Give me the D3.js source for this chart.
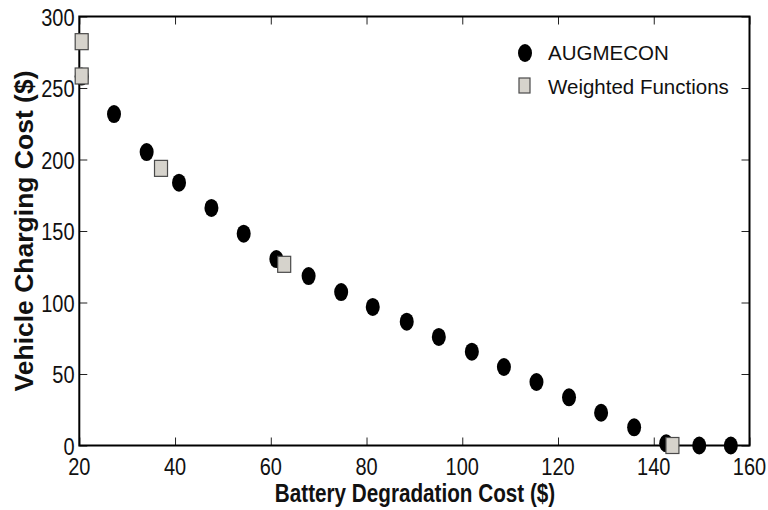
<!DOCTYPE html>
<html>
<head>
<meta charset="utf-8">
<script src="https://cdn.jsdelivr.net/npm/d3@7/dist/d3.min.js"></script>
<style>
  html, body { margin: 0; padding: 0; background: #fff; }
  svg { display: block; }
</style>
</head>
<body>
<svg id="chart" width="768" height="510"></svg>
<script>
// Pareto front: battery degradation cost vs. vehicle charging cost
const augmeconX = [20.5, 27.25, 34.07, 40.83, 47.6, 54.34, 61.16, 67.9, 74.7, 81.3, 88.4, 95.1, 102.0, 108.7, 115.5, 122.3, 129.0, 135.9, 142.6, 149.5, 156.1];
const augmeconY = [258, 231.8, 205.2, 183.8, 166.1, 148.1, 130.4, 118.5, 107.3, 96.9, 86.6, 75.9, 65.6, 54.9, 44.4, 33.7, 22.9, 12.7, 1.5, 0, 0];
const weightedX = [20.5, 20.5, 37.07, 62.8, 143.9];
const weightedY = [282.4, 258.4, 193.8, 126.7, 0];
const xTicks = [20, 40, 60, 80, 100, 120, 140, 160];
const yTicks = [0, 50, 100, 150, 200, 250, 300];
const seriesNames = ["AUGMECON", "Weighted Functions"];
const xTitle = "Battery Degradation Cost ($)";
const yTitle = "Vehicle Charging Cost ($)";

const svg = d3.select("#chart");
const plotL = 79.3, plotR = 749.5, plotT = 16.5, plotB = 445.5;

const x = d3.scaleLinear().domain([20, 160]).range([plotL, plotR]);
const y = d3.scaleLinear().domain([0, 300]).range([plotB, plotT]);

const font = "'Liberation Sans', Arial, Helvetica, sans-serif";

// inward ticks on all four sides
function styleAxis(g) {
  g.select(".domain").remove();
  g.selectAll(".tick line").attr("stroke", "#222").attr("stroke-width", 1);
  g.selectAll(".tick text").remove();
}
const tl = 8;
svg.append("g").attr("transform", `translate(0,${plotB})`)
  .call(d3.axisBottom(x).tickValues(xTicks).tickSize(-tl)).call(styleAxis);
svg.append("g").attr("transform", `translate(0,${plotT})`)
  .call(d3.axisTop(x).tickValues(xTicks).tickSize(-tl)).call(styleAxis);
svg.append("g").attr("transform", `translate(${plotL},0)`)
  .call(d3.axisLeft(y).tickValues(yTicks).tickSize(-tl)).call(styleAxis);
svg.append("g").attr("transform", `translate(${plotR},0)`)
  .call(d3.axisRight(y).tickValues(yTicks).tickSize(-tl)).call(styleAxis);

// box
svg.append("rect")
  .attr("x", plotL).attr("y", plotT)
  .attr("width", plotR - plotL).attr("height", plotB - plotT)
  .attr("fill", "none").attr("stroke", "#000").attr("stroke-width", 2);

// tick labels (tall, narrow numerals)
svg.append("g").selectAll("text").data(xTicks).join("text")
  .attr("transform", d => `translate(${x(d)},475) scale(1,1.2)`)
  .attr("text-anchor", "middle")
  .attr("font-family", font).attr("font-size", 20)
  .attr("fill", "#111")
  .text(d => d);
svg.append("g").selectAll("text").data(yTicks).join("text")
  .attr("transform", d => `translate(74.5,${y(d) + 9}) scale(1,1.2)`)
  .attr("text-anchor", "end")
  .attr("font-family", font).attr("font-size", 20)
  .attr("fill", "#111")
  .text(d => d);

// axis titles
svg.append("text")
  .attr("transform", `translate(415,502) scale(1,1.24)`)
  .attr("text-anchor", "middle")
  .attr("font-family", font).attr("font-size", 20.7).attr("font-weight", "bold")
  .attr("fill", "#111")
  .text(xTitle);
svg.append("text")
  .attr("transform", `translate(33,231) rotate(-90)`)
  .attr("text-anchor", "middle")
  .attr("font-family", font).attr("font-size", 26.5).attr("font-weight", "bold")
  .attr("fill", "#111")
  .text(yTitle);

// AUGMECON points
const aug = augmeconX.map((v, i) => ({ x: v, y: augmeconY[i] }));
svg.append("g").selectAll("ellipse").data(aug).join("ellipse")
  .attr("cx", d => x(d.x)).attr("cy", d => y(d.y))
  .attr("rx", 7).attr("ry", 9)
  .attr("fill", "#000");

// Weighted-function points
const wf = weightedX.map((v, i) => ({ x: v, y: weightedY[i] }));
const sw = 13, sh = 16;
svg.append("g").selectAll("rect").data(wf).join("rect")
  .attr("x", d => x(d.x) - sw / 2).attr("y", d => y(d.y) - sh / 2)
  .attr("width", sw).attr("height", sh)
  .attr("fill", "#d6d3cc").attr("stroke", "#4a4a4a").attr("stroke-width", 1.2);

// legend
const lg = svg.append("g");
lg.append("ellipse").attr("cx", 525).attr("cy", 53).attr("rx", 7).attr("ry", 9).attr("fill", "#000");
lg.append("rect").attr("x", 519).attr("y", 78).attr("width", 11).attr("height", 15)
  .attr("fill", "#d6d3cc").attr("stroke", "#4a4a4a").attr("stroke-width", 1.2);
lg.selectAll("text").data(seriesNames).join("text")
  .attr("x", 548).attr("y", (d, i) => 60 + i * 34)
  .attr("font-family", font).attr("font-size", 20.5)
  .attr("fill", "#111")
  .text(d => d);
</script>
</body>
</html>
